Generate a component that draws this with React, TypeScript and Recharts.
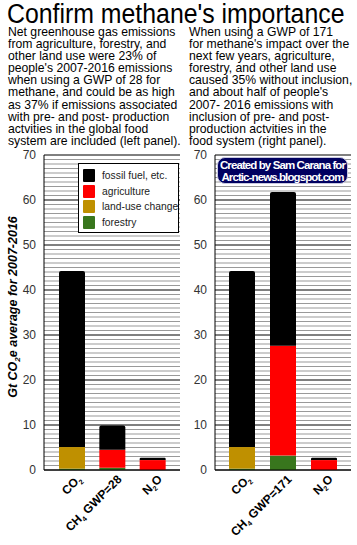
import { BarChart, Bar, XAxis, YAxis, ReferenceLine } from 'recharts';

// categories and tick labels (label parts: base, subscript, rest)
const leftCategories = ['CO2', 'CH4 GWP=28', 'N2O'];
const rightCategories = ['CO2', 'CH4 GWP=171', 'N2O'];
const leftTickLabels = [['CO', '2', ''], ['CH', '4', ' GWP=28'], ['N', '2', 'O']];
const rightTickLabels = [['CO', '2', ''], ['CH', '4', ' GWP=171'], ['N', '2', 'O']];

// Gt CO2e per segment, stacked bottom to top
const forestryLeft = [0.3, 0.5, 0];
const landUseLeft = [4.8, 0, 0];
const agricultureLeft = [0, 4.0, 2.2];
const fossilLeft = [39.1, 5.4, 0.5];

const forestryRight = [0.3, 3.2, 0];
const landUseRight = [4.8, 0, 0];
const agricultureRight = [0, 24.4, 2.2];
const fossilRight = [39.1, 34.2, 0.5];

const yTicks = [0, 10, 20, 30, 40, 50, 60, 70];
const minorTicks = Array.from({ length: 71 }, (_, i) => i).filter((t) => t % 10 !== 0);

const legendItems = [
  { label: 'fossil fuel, etc.', color: '#000000' },
  { label: 'agriculture', color: '#ff0000' },
  { label: 'land-use change', color: '#bf9000' },
  { label: 'forestry', color: '#38761d' },
];

const FONT = '"Liberation Sans", Arial, sans-serif';

const leftData = leftCategories.map((name, i) => ({
  name,
  forestry: forestryLeft[i],
  landUse: landUseLeft[i],
  agriculture: agricultureLeft[i],
  fossil: fossilLeft[i],
}));

const rightData = rightCategories.map((name, i) => ({
  name,
  forestry: forestryRight[i],
  landUse: landUseRight[i],
  agriculture: agricultureRight[i],
  fossil: fossilRight[i],
}));

function makeTick(categories: string[], labels: string[][]) {
  return function GasTick(props: any) {
    const { x, y, payload } = props;
    const parts = labels[categories.indexOf(payload.value)] || [payload.value, '', ''];
    return (
      <g transform={`translate(${x + 10},${y + 2})`}>
        <text transform="rotate(-45)" textAnchor="end" fontSize={12} fontWeight="bold" fill="#000" fontFamily={FONT}>
          {parts[0]}
          <tspan fontSize={7} dy={3}>{parts[1]}</tspan>
          <tspan dy={-3}>{parts[2]}</tspan>
        </text>
      </g>
    );
  };
}

const chartProps = {
  width: 182,
  height: 405,
  margin: { top: 15, right: 2, bottom: 15, left: 14 },
  barSize: 26,
};

function stackBars(hidden: boolean) {
  const op = hidden ? 0 : 1;
  return [
    <Bar key="f" dataKey="forestry" stackId="a" fill="#38761d" fillOpacity={op} isAnimationActive={false} />,
    <Bar key="l" dataKey="landUse" stackId="a" fill="#bf9000" fillOpacity={op} isAnimationActive={false} />,
    <Bar key="a" dataKey="agriculture" stackId="a" fill="#ff0000" fillOpacity={op} isAnimationActive={false} />,
    <Bar key="x" dataKey="fossil" stackId="a" fill="#000000" fillOpacity={op} radius={[2, 2, 0, 0]} isAnimationActive={false} />,
  ];
}

// grid layer underneath, bars and axes on top (same layout)
function Panel({ data, categories, labels, padding }: any) {
  return (
    <div style={{ position: 'relative', width: 182, height: 405 }}>
      <div style={{ position: 'absolute', left: 0, top: 0 }}>
        <BarChart {...chartProps} data={data}>
          <XAxis dataKey="name" height={60} padding={padding} tick={false} tickLine={false} axisLine={false} />
          <YAxis width={30} domain={[0, 70]} ticks={yTicks} tick={false} tickLine={false} axisLine={false} />
          {minorTicks.map((t) => (
            <ReferenceLine key={'m' + t} y={t} stroke="#999" strokeWidth={1} />
          ))}
          {yTicks.map((t) => (
            <ReferenceLine key={'M' + t} y={t} stroke="#000" strokeWidth={1} />
          ))}
          {stackBars(true)}
        </BarChart>
      </div>
      <div style={{ position: 'absolute', left: 0, top: 0 }}>
        <BarChart {...chartProps} data={data}>
          <XAxis
            dataKey="name"
            height={60}
            padding={padding}
            tickLine={false}
            axisLine={{ stroke: '#000' }}
            interval={0}
            tick={makeTick(categories, labels)}
          />
          <YAxis
            width={30}
            domain={[0, 70]}
            ticks={yTicks}
            tickLine={false}
            tickSize={0}
            tickMargin={8}
            axisLine={{ stroke: '#000' }}
            tick={{ fontSize: 12, fill: '#333', fontFamily: FONT }}
          />
          {stackBars(false)}
        </BarChart>
      </div>
    </div>
  );
}

export default function App() {
  return (
    <div style={{ position: 'absolute', left: 0, top: 0, width: 357, height: 545, background: '#fff', fontFamily: FONT, overflow: 'hidden' }}>
      <div
        style={{
          position: 'absolute',
          left: 7,
          top: -2,
          fontSize: 27,
          lineHeight: '32px',
          color: '#000',
          whiteSpace: 'nowrap',
          transform: 'scaleX(0.92)',
          transformOrigin: 'left top',
        }}
      >
        Confirm methane's importance
      </div>
      <div style={{ position: 'absolute', left: 8, top: 26, fontSize: 12.2, lineHeight: '12.1px', color: '#000', whiteSpace: 'pre' }}>
        {'Net greenhouse gas emissions\nfrom agriculture, forestry, and\nother land use were 23% of\npeople\'s 2007-2016 emissions\nwhen using a GWP of 28 for\nmethane, and could be as high\nas 37% if emissions associated\nwith pre- and post- production\nactvities in the global food\nsystem are included (left panel).'}
      </div>
      <div style={{ position: 'absolute', left: 189, top: 26, fontSize: 12.2, lineHeight: '12.1px', color: '#000', whiteSpace: 'pre' }}>
        {'When using a GWP of 171\nfor methane\'s impact over the\nnext few years, agriculture,\nforestry, and other land use\ncaused 35% without inclusion,\nand about half of people\'s\n2007- 2016 emissions with\ninclusion of pre- and post-\nproduction actvities in the\nfood system (right panel).'}
      </div>

      <div style={{ position: 'absolute', left: 0, top: 140 }}>
        <Panel data={leftData} categories={leftCategories} labels={leftTickLabels} padding={{ left: 8, right: 7 }} />
      </div>
      <div style={{ position: 'absolute', left: 171, top: 140 }}>
        <Panel data={rightData} categories={rightCategories} labels={rightTickLabels} padding={{ left: 6, right: 7 }} />
      </div>

      <svg style={{ position: 'absolute', left: 0, top: 200 }} width={28} height={220}>
        <text
          transform="translate(17,107) rotate(-90)"
          textAnchor="middle"
          fontSize={12.5}
          fontWeight="bold"
          fontStyle="italic"
          fill="#000"
          fontFamily={FONT}
        >
          Gt CO<tspan fontSize={8} dy={3}>2</tspan><tspan dy={-3}>e average for 2007-2016</tspan>
        </text>
      </svg>

      <div style={{ position: 'absolute', left: 78, top: 163, width: 99, height: 68, border: '1px solid #000', background: '#fff' }}>
        {legendItems.map((item, i) => (
          <div key={item.label} style={{ position: 'absolute', left: 4, top: 5 + i * 15.5, display: 'flex', alignItems: 'center', height: 13 }}>
            <span style={{ width: 12, height: 13, background: item.color, display: 'inline-block', borderRadius: 1 }} />
            <span style={{ marginLeft: 7, fontSize: 10.3, color: '#222', whiteSpace: 'nowrap' }}>{item.label}</span>
          </div>
        ))}
      </div>

      <div
        style={{
          position: 'absolute',
          left: 217,
          top: 157,
          width: 131,
          height: 27,
          background: '#000060',
          border: '1px solid #c8c8e0',
          borderRadius: 8,
          color: '#fff',
          fontSize: 11.5,
          fontWeight: 'bold',
          letterSpacing: -0.9,
          lineHeight: '12px',
          textAlign: 'center',
          paddingTop: 1,
          boxSizing: 'border-box',
          whiteSpace: 'nowrap',
        }}
      >
        Created by Sam Carana for
        <br />
        Arctic-news.blogspot.com
      </div>
    </div>
  );
}
